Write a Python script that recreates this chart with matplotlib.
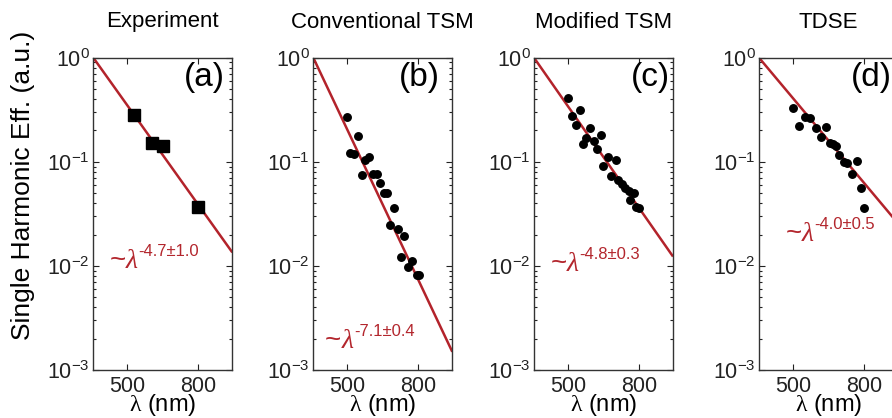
import matplotlib
matplotlib.use('Agg')
import matplotlib.pyplot as plt
import numpy as np
from matplotlib.ticker import FixedLocator, FixedFormatter, NullLocator, LogLocator, NullFormatter

plt.rcParams['font.family'] = ['Liberation Sans', 'DejaVu Sans']
plt.rcParams['mathtext.fontset'] = 'custom'
plt.rcParams['mathtext.rm'] = 'Liberation Sans'
plt.rcParams['mathtext.it'] = 'Liberation Serif:italic'
plt.rcParams['mathtext.sf'] = 'Liberation Serif'

# ---------------- data ----------------
titles = ['Experiment', 'Conventional TSM', 'Modified TSM', 'TDSE']
panel_tags = ['(a)', '(b)', '(c)', '(d)']
fit_exponents = [4.7, 7.1, 4.8, 4.0]
fit_errors = [1.0, 0.4, 0.3, 0.5]
fit_ref_wl = 400.0          # fit lines pass through 1.0 at 400 nm
fit_wl_range = [400, 1000]

exp_wl = [523, 588, 635, 800]
exp_eff = [0.28, 0.152, 0.142, 0.037]

conv_wl = [500, 509, 523, 537, 562, 576, 551, 621, 592, 607, 636, 649,
           681, 663, 697, 727, 711, 747, 767, 794, 802]
conv_eff = [0.271, 0.122, 0.118, 0.177, 0.105, 0.112, 0.075, 0.062, 0.0757,
            0.0757, 0.0500, 0.0500, 0.0357, 0.0247, 0.0224, 0.0194, 0.0121,
            0.0098, 0.0111, 0.0082, 0.0082]

mod_wl = [502, 514, 526, 540, 552, 565, 579, 593, 607, 623, 651, 632, 685,
          665, 698, 716, 731, 749, 771, 755, 785, 798]
mod_eff = [0.413, 0.275, 0.226, 0.314, 0.147, 0.169, 0.213, 0.158, 0.132,
           0.181, 0.112, 0.091, 0.104, 0.073, 0.067, 0.061, 0.056, 0.052,
           0.0505, 0.043, 0.037, 0.036]

tdse_wl = [500, 521, 540, 560, 582, 602, 623, 639, 653, 665, 679, 700, 716,
           740, 762, 782, 800]
tdse_eff = [0.33, 0.221, 0.267, 0.261, 0.21, 0.174, 0.217, 0.150, 0.147,
            0.143, 0.116, 0.0995, 0.0966, 0.0763, 0.1025, 0.0556, 0.0357]

x_ticks = [500, 800]
x_tick_labels = ['500', '800']
y_limits = [1e-3, 1e0]
x_limits = [400, 1000]

series = [(exp_wl, exp_eff, 's'), (conv_wl, conv_eff, 'o'),
          (mod_wl, mod_eff, 'o'), (tdse_wl, tdse_eff, 'o')]

# ---------------- layout (pixels) ----------------
W, H = 892, 418
ax_left_px = [93.3, 313.3, 534, 759]
ax_w_px = 139
ax_top_px, ax_bot_px = 57.7, 370
tag_pos = [(0.95, 0.935), (0.91, 0.935), (0.975, 0.935), (0.955, 0.935)]
ann_pos = [(0.115, 0.327), (0.085, 0.07), (0.12, 0.318), (0.19, 0.414)]

line_color = '#b3232b'
text_color = '#b3262d'

fig = plt.figure(figsize=(W / 100, H / 100), dpi=100)
renderer = fig.canvas.get_renderer()

for i in range(4):
    rect = [ax_left_px[i] / W, 1 - ax_bot_px / H, ax_w_px / W,
            (ax_bot_px - ax_top_px) / H]
    ax = fig.add_axes(rect)
    ax.set_xscale('log')
    ax.set_yscale('log')
    fx = np.array(fit_wl_range, dtype=float)
    ax.plot(fx, (fx / fit_ref_wl) ** (-fit_exponents[i]), color=line_color,
            lw=1.8, zorder=2, solid_capstyle='butt')
    wl, eff, mk = series[i]
    if mk == 's':
        ax.plot(wl, eff, 's', color='black', ms=8, zorder=3)
    else:
        ax.plot(wl, eff, 'o', color='black', ms=5.4, zorder=3)
    ax.set_xlim(x_limits)
    ax.set_ylim(y_limits)
    ax.xaxis.set_major_locator(FixedLocator(x_ticks))
    ax.xaxis.set_major_formatter(FixedFormatter(x_tick_labels))
    ax.xaxis.set_minor_locator(NullLocator())
    ax.xaxis.set_minor_formatter(NullFormatter())
    ax.yaxis.set_major_locator(LogLocator(base=10, numticks=10))
    ax.yaxis.set_minor_locator(LogLocator(base=10, subs=np.arange(2, 10), numticks=20))
    ax.yaxis.set_minor_formatter(NullFormatter())
    ax.tick_params(which='both', direction='in', top=True, right=True,
                   colors='#222222', width=0.8)
    ax.tick_params(which='major', length=4.5, labelsize=15.5, pad=2.5)
    ax.tick_params(which='minor', length=2.2)
    ax.tick_params(axis='x', which='major', pad=4)
    for s in ax.spines.values():
        s.set_color('#333333')
        s.set_linewidth(1.0)
    ax.text(tag_pos[i][0], tag_pos[i][1], panel_tags[i], transform=ax.transAxes,
            ha='right', va='center', fontsize=24)

    # annotation: "~" + lambda + superscript exponent, laid out piece by piece
    x0, y0 = ann_pos[i]
    t1 = ax.text(x0, y0, '~', transform=ax.transAxes, ha='left',
                 va='baseline', fontsize=20, color=text_color)
    bb = t1.get_window_extent(renderer)
    xa = ax.transAxes.inverted().transform((bb.x1, 0))[0]
    t2 = ax.text(xa, y0, '\u03bb', transform=ax.transAxes, ha='left',
                 va='baseline', fontsize=20, color=text_color,
                 family=['Liberation Serif', 'DejaVu Serif'], style='italic')
    bb = t2.get_window_extent(renderer)
    xb = ax.transAxes.inverted().transform((bb.x1 + 0.5, 0))[0]
    dy = 12.0 / (ax_bot_px - ax_top_px)
    ax.text(xb, y0 + dy, '-%.1f\u00b1%.1f' % (fit_exponents[i], fit_errors[i]),
            transform=ax.transAxes, ha='left', va='baseline', fontsize=12,
            color=text_color)

    cx = (ax_left_px[i] + ax_w_px / 2) / W
    fig.text(cx, 1 - 22 / H, titles[i], ha='center', va='center', fontsize=16)
    fig.text(cx, 1 - 405 / H, r'$\mathsf{\lambda}$ (nm)', ha='center',
             va='center', fontsize=17)

fig.text(23 / W, 1 - 185 / H, 'Single Harmonic Eff. (a.u.)', rotation=90,
         ha='center', va='center', fontsize=19)

fig.savefig('out.png', dpi=100)
